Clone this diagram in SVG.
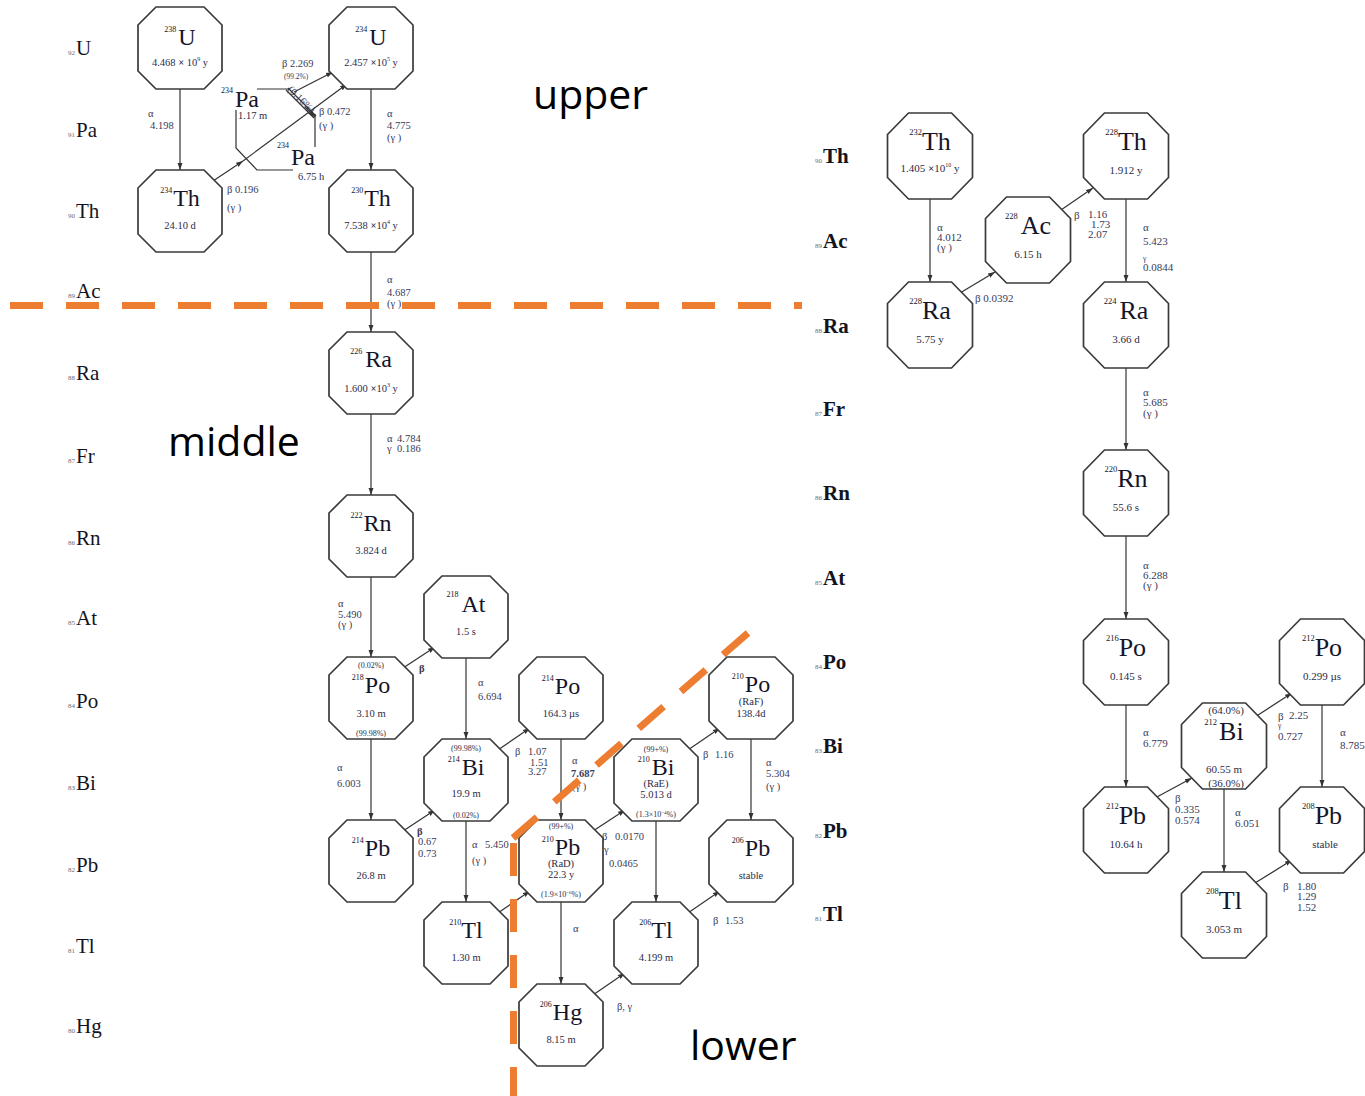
<svg xmlns="http://www.w3.org/2000/svg" xmlns:xlink="http://www.w3.org/1999/xlink" width="1365" height="1096" viewBox="0 0 1365 1096">
<defs>
<style>
.oct{fill:#fff;stroke:#3a3a3a;stroke-width:1.7}
.sym{font-family:"Liberation Serif",serif;font-size:24px;fill:#15152a}
.symR{font-family:"Liberation Serif",serif;font-size:26px;fill:#15152a}
.mass{font-size:8px}
.massR{font-size:8.5px}
.hl{font-family:"Liberation Serif",serif;font-size:10.5px;fill:#2c2c48}
.hlR{font-family:"Liberation Serif",serif;font-size:11px;fill:#2c2c48}
.pct{font-family:"Liberation Serif",serif;font-size:8px;fill:#2c2c48}
.lbl{font-family:"Liberation Serif",serif;font-size:10.5px;fill:#3a3a58}
.lblR{font-family:"Liberation Serif",serif;font-size:11px;fill:#3a3a58}
.tiny{font-size:7.5px}
.row{font-family:"Liberation Serif",serif;font-size:21px;fill:#141420}
.rowR{font-family:"Liberation Serif",serif;font-size:21px;font-weight:bold;fill:#141420}
.zn{font-size:7px;fill:#6a6a7a;font-weight:normal}
.edge{stroke:#333;stroke-width:1.2;fill:none;marker-end:url(#arr)}
.line{stroke:#333;stroke-width:1.2;fill:none}
.dash{stroke:#ED7D31;stroke-width:7;stroke-dasharray:33 23;fill:none}
.big{font-family:"Open Sans",sans-serif;font-size:41px;fill:#000}
</style>
<marker id="arr" viewBox="0 0 10 10" refX="10" refY="5" markerWidth="7" markerHeight="7" orient="auto" markerUnits="userSpaceOnUse"><path d="M0,1.5 L10,5 L0,8.5 z" fill="#333"/></marker>
<polygon id="octL" class="oct" points="-24,-41 24,-41 42,-23 42,23 24,41 -24,41 -42,23 -42,-23"/>
<polygon id="octR" class="oct" points="-21.5,-43 21.5,-43 42.5,-21.5 42.5,21.5 21.5,43 -21.5,43 -42.5,21.5 -42.5,-21.5"/>
</defs>
<rect width="1365" height="1096" fill="#fff"/>

<!-- row labels left -->
<g id="rows-left">
<text class="row" x="68" y="55"><tspan class="zn">92</tspan><tspan dx="1">U</tspan></text>
<text class="row" x="68" y="137"><tspan class="zn">91</tspan><tspan dx="1">Pa</tspan></text>
<text class="row" x="68" y="218"><tspan class="zn">90</tspan><tspan dx="1">Th</tspan></text>
<text class="row" x="68" y="298"><tspan class="zn">89</tspan><tspan dx="1">Ac</tspan></text>
<text class="row" x="68" y="380"><tspan class="zn">88</tspan><tspan dx="1">Ra</tspan></text>
<text class="row" x="68" y="463"><tspan class="zn">87</tspan><tspan dx="1">Fr</tspan></text>
<text class="row" x="68" y="545"><tspan class="zn">86</tspan><tspan dx="1">Rn</tspan></text>
<text class="row" x="68" y="625"><tspan class="zn">85</tspan><tspan dx="1">At</tspan></text>
<text class="row" x="68" y="708"><tspan class="zn">84</tspan><tspan dx="1">Po</tspan></text>
<text class="row" x="68" y="790"><tspan class="zn">83</tspan><tspan dx="1">Bi</tspan></text>
<text class="row" x="68" y="872"><tspan class="zn">82</tspan><tspan dx="1">Pb</tspan></text>
<text class="row" x="68" y="953"><tspan class="zn">81</tspan><tspan dx="1">Tl</tspan></text>
<text class="row" x="68" y="1033"><tspan class="zn">80</tspan><tspan dx="1">Hg</tspan></text>
</g>

<!-- row labels right -->
<g id="rows-right">
<text class="rowR" x="815" y="163"><tspan class="zn">90</tspan><tspan dx="1">Th</tspan></text>
<text class="rowR" x="815" y="248"><tspan class="zn">89</tspan><tspan dx="1">Ac</tspan></text>
<text class="rowR" x="815" y="333"><tspan class="zn">88</tspan><tspan dx="1">Ra</tspan></text>
<text class="rowR" x="815" y="416"><tspan class="zn">87</tspan><tspan dx="1">Fr</tspan></text>
<text class="rowR" x="815" y="500"><tspan class="zn">86</tspan><tspan dx="1">Rn</tspan></text>
<text class="rowR" x="815" y="585"><tspan class="zn">85</tspan><tspan dx="1">At</tspan></text>
<text class="rowR" x="815" y="669"><tspan class="zn">84</tspan><tspan dx="1">Po</tspan></text>
<text class="rowR" x="815" y="753"><tspan class="zn">83</tspan><tspan dx="1">Bi</tspan></text>
<text class="rowR" x="815" y="838"><tspan class="zn">82</tspan><tspan dx="1">Pb</tspan></text>
<text class="rowR" x="815" y="921"><tspan class="zn">81</tspan><tspan dx="1">Tl</tspan></text>
</g>

<!-- connectors -->
<g id="connectors">
<path class="edge" d="M180,89 V170"/>
<path class="edge" d="M371,89 V170"/>
<path class="edge" d="M371,252 V332"/>
<path class="edge" d="M371,414 V495"/>
<path class="edge" d="M371,577 V657"/>
<path class="edge" d="M371,739 V820"/>
<path class="edge" d="M400,670 L435,647"/>
<path class="edge" d="M466,658 V739"/>
<path class="edge" d="M400,833 L435,810"/>
<path class="edge" d="M495,752 L530,728"/>
<path class="edge" d="M466,821 V902"/>
<path class="edge" d="M561,739 V820"/>
<path class="edge" d="M495,915 L530,891"/>
<path class="edge" d="M590,833 L625,810"/>
<path class="edge" d="M561,902 V984"/>
<path class="edge" d="M590,997 L625,973"/>
<path class="edge" d="M656,821 V902"/>
<path class="edge" d="M685,752 L720,728"/>
<path class="edge" d="M751,739 V820"/>
<path class="edge" d="M685,915 L720,891"/>
<path class="edge" d="M210,183 L243,161"/>
<path class="edge" d="M243,161 L347,84"/>
<path class="edge" d="M294,92 L333,72"/>
<path class="line" d="M288,88 L316,116 M286,90 L314,118"/>
<path class="edge" d="M305,107 L315,117" stroke-width="0.1"/>
<!-- right -->
<path class="edge" d="M930,199 V282"/>
<path class="edge" d="M960,293 L995,272"/>
<path class="edge" d="M1058,212 L1093,188"/>
<path class="edge" d="M1126,199 V282"/>
<path class="edge" d="M1126,368 V450"/>
<path class="edge" d="M1126,536 V619"/>
<path class="edge" d="M1126,705 V787"/>
<path class="edge" d="M1155,798 L1192,778"/>
<path class="edge" d="M1255,717 L1292,693"/>
<path class="edge" d="M1224,789 V872"/>
<path class="edge" d="M1322,705 V787"/>
<path class="edge" d="M1255,883 L1292,860"/>
</g>

<!-- connector labels -->
<g id="edge-labels">
<text class="lbl" x="148" y="117">α</text>
<text class="lbl" x="150" y="129">4.198</text>
<text class="lbl" x="282" y="67">β 2.269</text>
<text class="lbl tiny" x="284" y="79">(99.2%)</text>
<text class="lbl" x="319" y="115">β 0.472</text>
<text class="lbl" x="319" y="129">(γ )</text>
<text class="lbl" x="299" y="102" text-anchor="middle" transform="rotate(45 299 102)" font-size="6" fill="#8a8aa8">(0.16%)</text>
<text class="lbl" x="227" y="193">β  0.196</text>
<text class="lbl" x="227" y="211">(γ )</text>
<text class="lbl" x="387" y="117">α</text>
<text class="lbl" x="387" y="129">4.775</text>
<text class="lbl" x="387" y="141">(γ )</text>
<text class="lbl" x="387" y="283">α</text>
<text class="lbl" x="387" y="296">4.687</text>
<text class="lbl" x="387" y="307">(γ )</text>
<text class="lbl" x="387" y="442">α</text>
<text class="lbl" x="397" y="442">4.784</text>
<text class="lbl" x="387" y="452">γ</text>
<text class="lbl" x="397" y="452">0.186</text>
<text class="lbl" x="338" y="607">α</text>
<text class="lbl" x="338" y="618">5.490</text>
<text class="lbl" x="338" y="628">(γ )</text>
<text class="lbl" x="419" y="672" font-weight="bold">β</text>
<text class="lbl" x="478" y="686">α</text>
<text class="lbl" x="478" y="700">6.694</text>
<text class="lbl" x="337" y="771">α</text>
<text class="lbl" x="337" y="787">6.003</text>
<text class="lbl" x="417" y="835" font-weight="bold">β</text>
<text class="lbl" x="418" y="845">0.67</text>
<text class="lbl" x="418" y="857">0.73</text>
<text class="lbl" x="515" y="755">β</text>
<text class="lbl" x="528" y="755">1.07</text>
<text class="lbl" x="530" y="766">1.51</text>
<text class="lbl" x="528" y="775">3.27</text>
<text class="lbl" x="572" y="764">α</text>
<text class="lbl" x="571" y="777" font-weight="bold">7.687</text>
<text class="lbl" x="572" y="790">(γ )</text>
<text class="lbl" x="472" y="848">α</text>
<text class="lbl" x="485" y="848">5.450</text>
<text class="lbl" x="472" y="864">(γ )</text>
<text class="lbl" x="602" y="840">β</text>
<text class="lbl" x="615" y="840">0.0170</text>
<text class="lbl" x="604" y="853">γ</text>
<text class="lbl" x="609" y="867">0.0465</text>
<text class="lbl" x="573" y="932">α</text>
<text class="lbl" x="617" y="1010">β,  γ</text>
<text class="lbl" x="703" y="758">β</text>
<text class="lbl" x="715" y="758">1.16</text>
<text class="lbl" x="766" y="766">α</text>
<text class="lbl" x="766" y="777">5.304</text>
<text class="lbl" x="766" y="790">(γ )</text>
<text class="lbl" x="713" y="924">β</text>
<text class="lbl" x="725" y="924">1.53</text>
<!-- right -->
<text class="lblR" x="937" y="231">α</text>
<text class="lblR" x="937" y="241">4.012</text>
<text class="lblR" x="937" y="251">(γ )</text>
<text class="lblR" x="975" y="302">β 0.0392</text>
<text class="lblR" x="1074" y="219">β</text>
<text class="lblR" x="1088" y="218">1.16</text>
<text class="lblR" x="1091" y="228">1.73</text>
<text class="lblR" x="1088" y="238">2.07</text>
<text class="lblR" x="1143" y="231">α</text>
<text class="lblR" x="1143" y="245">5.423</text>
<text class="lblR tiny" x="1143" y="261">γ</text>
<text class="lblR" x="1143" y="271">0.0844</text>
<text class="lblR" x="1143" y="396">α</text>
<text class="lblR" x="1143" y="406">5.685</text>
<text class="lblR" x="1143" y="417">(γ )</text>
<text class="lblR" x="1143" y="569">α</text>
<text class="lblR" x="1143" y="579">6.288</text>
<text class="lblR" x="1143" y="589">(γ )</text>
<text class="lblR" x="1143" y="736">α</text>
<text class="lblR" x="1143" y="747">6.779</text>
<text class="lblR" x="1175" y="802">β</text>
<text class="lblR" x="1175" y="813">0.335</text>
<text class="lblR" x="1175" y="824">0.574</text>
<text class="lblR" x="1278" y="720">β</text>
<text class="lblR" x="1289" y="719">2.25</text>
<text class="lblR tiny" x="1278" y="728">γ</text>
<text class="lblR" x="1278" y="740">0.727</text>
<text class="lblR" x="1235" y="816">α</text>
<text class="lblR" x="1235" y="827">6.051</text>
<text class="lblR" x="1340" y="736">α</text>
<text class="lblR" x="1340" y="749">8.785</text>
<text class="lblR" x="1283" y="890">β</text>
<text class="lblR" x="1297" y="890">1.80</text>
<text class="lblR" x="1297" y="900">1.29</text>
<text class="lblR" x="1297" y="911">1.52</text>
</g>

<!-- left nodes -->
<g id="n-U238"><use href="#octL" x="180" y="48"/>
<text class="sym" x="180" y="45" text-anchor="middle"><tspan class="mass" dy="-13">238</tspan><tspan dy="13" dx="2">U</tspan></text>
<text class="hl" x="180" y="66" text-anchor="middle">4.468 <tspan font-weight="bold">×</tspan> 10<tspan font-size="6" dy="-5">9</tspan><tspan dy="5"> y</tspan></text></g>
<g id="n-Th234"><use href="#octL" x="180" y="211"/>
<text class="sym" x="180" y="206" text-anchor="middle"><tspan class="mass" dy="-13">234</tspan><tspan dy="13" dx="1">Th</tspan></text>
<text class="hl" x="180" y="229" text-anchor="middle">24.10 d</text></g>
<g id="n-U234"><use href="#octL" x="371" y="48"/>
<text class="sym" x="371" y="45" text-anchor="middle"><tspan class="mass" dy="-13">234</tspan><tspan dy="13" dx="2">U</tspan></text>
<text class="hl" x="371" y="66" text-anchor="middle">2.457 <tspan font-weight="bold">×</tspan>10<tspan font-size="6" dy="-5">5</tspan><tspan dy="5"> y</tspan></text></g>
<g id="n-Th230"><use href="#octL" x="371" y="211"/>
<text class="sym" x="371" y="206" text-anchor="middle"><tspan class="mass" dy="-13">230</tspan><tspan dy="13" dx="1">Th</tspan></text>
<text class="hl" x="371" y="229" text-anchor="middle">7.538 <tspan font-weight="bold">×</tspan>10<tspan font-size="6" dy="-5">4</tspan><tspan dy="5"> y</tspan></text></g>
<g id="n-Pa234">
<path class="line" d="M290,89 L257,89 M236,110 L236,148 L257,170 L293,170 M315,147 L315,114" stroke-width="1.7" stroke="#3a3a3a"/>
<text class="sym" x="221" y="107"><tspan class="mass" dy="-14">234</tspan><tspan dy="14" dx="2">Pa</tspan></text>
<text class="hl" x="238" y="119">1.17 m</text>
<text class="sym" x="277" y="165"><tspan class="mass" dy="-17">234</tspan><tspan dy="17" dx="2">Pa</tspan></text>
<text class="hl" x="298" y="180">6.75 h</text></g>
<g id="n-Ra226"><use href="#octL" x="371" y="373"/>
<text class="sym" x="371" y="367" text-anchor="middle"><tspan class="mass" dy="-13">226</tspan><tspan dy="13" dx="3">Ra</tspan></text>
<text class="hl" x="371" y="392" text-anchor="middle">1.600 <tspan font-weight="bold">×</tspan>10<tspan font-size="6" dy="-5">3</tspan><tspan dy="5"> y</tspan></text></g>
<g id="n-Rn222"><use href="#octL" x="371" y="536"/>
<text class="sym" x="371" y="531" text-anchor="middle"><tspan class="mass" dy="-13">222</tspan><tspan dy="13" dx="1">Rn</tspan></text>
<text class="hl" x="371" y="554" text-anchor="middle">3.824 d</text></g>
<g id="n-Po218"><use href="#octL" x="371" y="698"/>
<text class="pct" x="371" y="668" text-anchor="middle">(0.02%)</text>
<text class="sym" x="371" y="693" text-anchor="middle"><tspan class="mass" dy="-13">218</tspan><tspan dy="13" dx="1">Po</tspan></text>
<text class="hl" x="371" y="717" text-anchor="middle">3.10 m</text>
<text class="pct" x="371" y="736" text-anchor="middle">(99.98%)</text></g>
<g id="n-Pb214"><use href="#octL" x="371" y="861"/>
<text class="sym" x="371" y="856" text-anchor="middle"><tspan class="mass" dy="-13">214</tspan><tspan dy="13" dx="1">Pb</tspan></text>
<text class="hl" x="371" y="879" text-anchor="middle">26.8 m</text></g>
<g id="n-At218"><use href="#octL" x="466" y="617"/>
<text class="sym" x="466" y="612" text-anchor="middle"><tspan class="mass" dy="-15">218</tspan><tspan dy="15" dx="3">At</tspan></text>
<text class="hl" x="466" y="635" text-anchor="middle">1.5 s</text></g>
<g id="n-Bi214"><use href="#octL" x="466" y="780"/>
<text class="pct" x="466" y="751" text-anchor="middle">(99.98%)</text>
<text class="sym" x="466" y="775" text-anchor="middle"><tspan class="mass" dy="-13">214</tspan><tspan dy="13" dx="2">Bi</tspan></text>
<text class="hl" x="466" y="797" text-anchor="middle">19.9 m</text>
<text class="pct" x="466" y="818" text-anchor="middle">(0.02%)</text></g>
<g id="n-Tl210"><use href="#octL" x="466" y="943"/>
<text class="sym" x="466" y="938" text-anchor="middle"><tspan class="mass" dy="-13">210</tspan><tspan dy="13">Tl</tspan></text>
<text class="hl" x="466" y="961" text-anchor="middle">1.30 m</text></g>
<g id="n-Po214"><use href="#octL" x="561" y="698"/>
<text class="sym" x="561" y="694" text-anchor="middle"><tspan class="mass" dy="-13">214</tspan><tspan dy="13" dx="1">Po</tspan></text>
<text class="hl" x="561" y="717" text-anchor="middle">164.3 µs</text></g>
<g id="n-Pb210"><use href="#octL" x="561" y="861"/>
<text class="pct" x="561" y="829" text-anchor="middle">(99+%)</text>
<text class="sym" x="561" y="855" text-anchor="middle"><tspan class="mass" dy="-13">210</tspan><tspan dy="13" dx="1">Pb</tspan></text>
<text class="hl" x="561" y="867" text-anchor="middle">(RaD)</text>
<text class="hl" x="561" y="878" text-anchor="middle">22.3 y</text>
<text class="pct" x="561" y="897" text-anchor="middle">(1.9×10<tspan font-size="5" dy="-3">−6</tspan><tspan dy="3">%)</tspan></text></g>
<g id="n-Hg206"><use href="#octL" x="561" y="1025"/>
<text class="sym" x="561" y="1020" text-anchor="middle"><tspan class="mass" dy="-13">206</tspan><tspan dy="13" dx="1">Hg</tspan></text>
<text class="hl" x="561" y="1043" text-anchor="middle">8.15 m</text></g>
<g id="n-Bi210"><use href="#octL" x="656" y="780"/>
<text class="pct" x="656" y="752" text-anchor="middle">(99+%)</text>
<text class="sym" x="656" y="775" text-anchor="middle"><tspan class="mass" dy="-13">210</tspan><tspan dy="13" dx="2">Bi</tspan></text>
<text class="hl" x="656" y="787" text-anchor="middle">(RaE)</text>
<text class="hl" x="656" y="798" text-anchor="middle">5.013 d</text>
<text class="pct" x="656" y="817" text-anchor="middle">(1.3×10<tspan font-size="5" dy="-3">−4</tspan><tspan dy="3">%)</tspan></text></g>
<g id="n-Tl206"><use href="#octL" x="656" y="943"/>
<text class="sym" x="656" y="938" text-anchor="middle"><tspan class="mass" dy="-13">206</tspan><tspan dy="13">Tl</tspan></text>
<text class="hl" x="656" y="961" text-anchor="middle">4.199 m</text></g>
<g id="n-Po210"><use href="#octL" x="751" y="698"/>
<text class="sym" x="751" y="692" text-anchor="middle"><tspan class="mass" dy="-13">210</tspan><tspan dy="13" dx="1">Po</tspan></text>
<text class="hl" x="751" y="705" text-anchor="middle">(RaF)</text>
<text class="hl" x="751" y="717" text-anchor="middle">138.4d</text></g>
<g id="n-Pb206"><use href="#octL" x="751" y="861"/>
<text class="sym" x="751" y="856" text-anchor="middle"><tspan class="mass" dy="-13">206</tspan><tspan dy="13" dx="1">Pb</tspan></text>
<text class="hl" x="751" y="879" text-anchor="middle">stable</text></g>

<!-- right nodes -->
<g id="n-Th232"><use href="#octR" x="930" y="156"/>
<text class="symR" x="930" y="150" text-anchor="middle"><tspan class="massR" dy="-15">232</tspan><tspan dy="15">Th</tspan></text>
<text class="hlR" x="930" y="172" text-anchor="middle">1.405 <tspan font-weight="bold">×</tspan>10<tspan font-size="6" dy="-5">10</tspan><tspan dy="5"> y</tspan></text></g>
<g id="n-Ra228"><use href="#octR" x="930" y="325"/>
<text class="symR" x="930" y="319" text-anchor="middle"><tspan class="massR" dy="-15">228</tspan><tspan dy="15">Ra</tspan></text>
<text class="hlR" x="930" y="343" text-anchor="middle">5.75 y</text></g>
<g id="n-Ac228"><use href="#octR" x="1028" y="240"/>
<text class="symR" x="1028" y="234" text-anchor="middle"><tspan class="massR" dy="-15">228</tspan><tspan dy="15" dx="3">Ac</tspan></text>
<text class="hlR" x="1028" y="258" text-anchor="middle">6.15 h</text></g>
<g id="n-Th228"><use href="#octR" x="1126" y="156"/>
<text class="symR" x="1126" y="150" text-anchor="middle"><tspan class="massR" dy="-15">228</tspan><tspan dy="15">Th</tspan></text>
<text class="hlR" x="1126" y="174" text-anchor="middle">1.912 y</text></g>
<g id="n-Ra224"><use href="#octR" x="1126" y="325"/>
<text class="symR" x="1126" y="319" text-anchor="middle"><tspan class="massR" dy="-15">224</tspan><tspan dy="15" dx="3">Ra</tspan></text>
<text class="hlR" x="1126" y="343" text-anchor="middle">3.66 d</text></g>
<g id="n-Rn220"><use href="#octR" x="1126" y="493"/>
<text class="symR" x="1126" y="487" text-anchor="middle"><tspan class="massR" dy="-15">220</tspan><tspan dy="15">Rn</tspan></text>
<text class="hlR" x="1126" y="511" text-anchor="middle">55.6 s</text></g>
<g id="n-Po216"><use href="#octR" x="1126" y="662"/>
<text class="symR" x="1126" y="656" text-anchor="middle"><tspan class="massR" dy="-15">216</tspan><tspan dy="15">Po</tspan></text>
<text class="hlR" x="1126" y="680" text-anchor="middle">0.145 s</text></g>
<g id="n-Pb212"><use href="#octR" x="1126" y="830"/>
<text class="symR" x="1126" y="824" text-anchor="middle"><tspan class="massR" dy="-15">212</tspan><tspan dy="15">Pb</tspan></text>
<text class="hlR" x="1126" y="848" text-anchor="middle">10.64 h</text></g>
<g id="n-Bi212"><use href="#octR" x="1224" y="746"/>
<text class="hlR" x="1226" y="714" text-anchor="middle">(64.0%)</text>
<text class="symR" x="1224" y="740" text-anchor="middle"><tspan class="massR" dy="-15">212</tspan><tspan dy="15" dx="2">Bi</tspan></text>
<text class="hlR" x="1224" y="773" text-anchor="middle">60.55 m</text>
<text class="hlR" x="1226" y="787" text-anchor="middle">(36.0%)</text></g>
<g id="n-Tl208"><use href="#octR" x="1224" y="915"/>
<text class="symR" x="1224" y="909" text-anchor="middle"><tspan class="massR" dy="-15">208</tspan><tspan dy="15">Tl</tspan></text>
<text class="hlR" x="1224" y="933" text-anchor="middle">3.053 m</text></g>
<g id="n-Po212"><use href="#octR" x="1322" y="662"/>
<text class="symR" x="1322" y="656" text-anchor="middle"><tspan class="massR" dy="-15">212</tspan><tspan dy="15">Po</tspan></text>
<text class="hlR" x="1322" y="680" text-anchor="middle">0.299 µs</text></g>
<g id="n-Pb208"><use href="#octR" x="1322" y="830"/>
<text class="symR" x="1322" y="824" text-anchor="middle"><tspan class="massR" dy="-15">208</tspan><tspan dy="15">Pb</tspan></text>
<text class="hlR" x="1325" y="848" text-anchor="middle">stable</text></g>

<!-- annotations -->
<g id="annotations">
<path class="dash" d="M10,305.5 H802"/>
<path class="dash" d="M748,633 L513,838"/>
<path class="dash" d="M513.5,843 V1096"/>
<text class="big" x="533" y="109">upper</text>
<text class="big" x="168" y="456">middle</text>
<text class="big" x="690" y="1060">lower</text>
</g>
</svg>
